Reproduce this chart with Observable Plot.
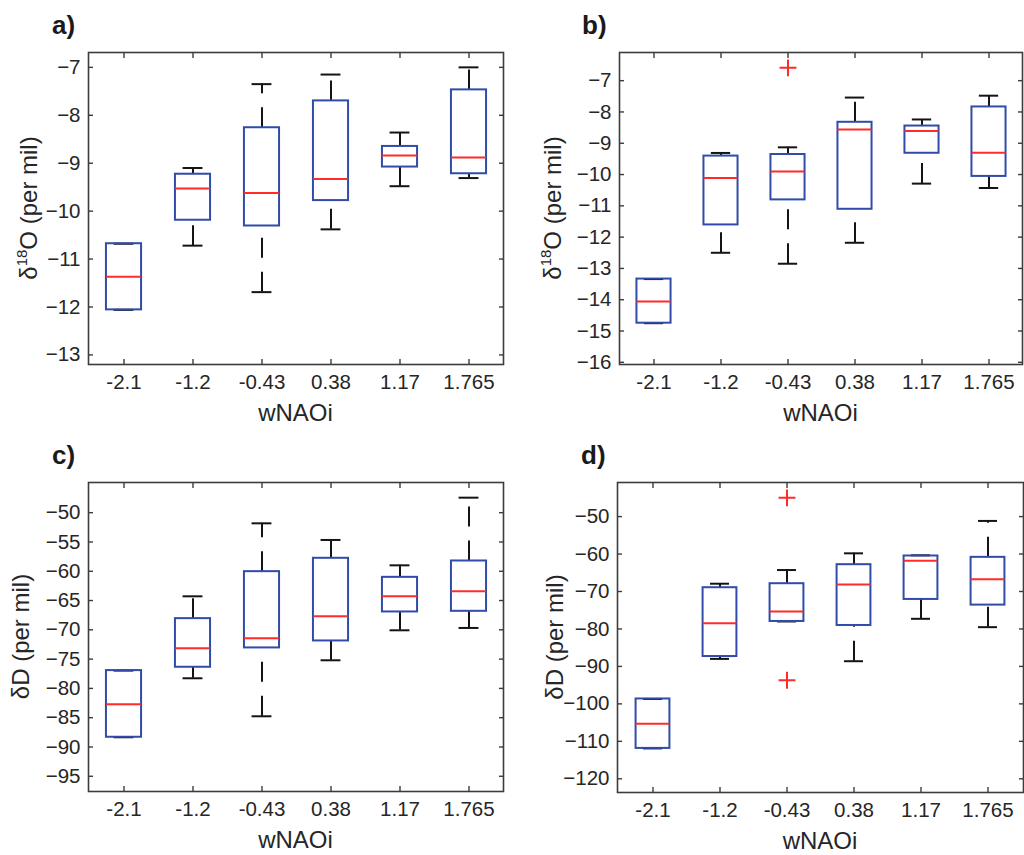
<!DOCTYPE html>
<html>
<head>
<meta charset="utf-8">
<script src="https://cdn.jsdelivr.net/npm/d3@7"></script>
<script src="https://cdn.jsdelivr.net/npm/@observablehq/plot@0.6"></script>
<style>
  html, body { margin: 0; padding: 0; background: #fff; }
  #fig { position: relative; width: 1024px; height: 855px; background: #fff; font-family: "Liberation Sans", Arial, Helvetica, sans-serif; }
  .panel { position: absolute; }
  .plabel { position: absolute; font-weight: bold; font-size: 26px; color: #1a1a1a; line-height: 1; }
</style>
</head>
<body>
<div id="fig"></div>
<script>
// ---------- data ----------
const categories = ["-2.1", "-1.2", "-0.43", "0.38", "1.17", "1.765"];

// panel a: δ18O (first data set)
const aLow    = [-12.06, -10.72, -11.69, -10.38, -9.48, -9.31];
const aQ1     = [-12.06, -10.19, -10.31, -9.78, -9.08, -9.22];
const aMedian = [-11.37, -9.53, -9.62, -9.33, -8.84, -8.88];
const aQ3     = [-10.68, -9.23, -8.26, -7.70, -8.65, -7.47];
const aHigh   = [-10.68, -9.10, -7.35, -7.15, -8.36, -7.00];
const aOutliers = [];
const aTicks  = [-13, -12, -11, -10, -9, -8, -7];

// panel b: δ18O (second data set)
const bLow    = [-14.75, -12.50, -12.85, -12.18, -10.29, -10.43];
const bQ1     = [-14.75, -11.61, -10.81, -11.11, -9.32, -10.06];
const bMedian = [-14.06, -10.11, -9.90, -8.56, -8.61, -9.30];
const bQ3     = [-13.34, -9.41, -9.36, -8.33, -8.45, -7.84];
const bHigh   = [-13.34, -9.31, -9.13, -7.54, -8.24, -7.48];
const bOutliers = [{cat: "-0.43", v: -6.59}];
const bTicks  = [-16, -15, -14, -13, -12, -11, -10, -9, -8, -7];

// panel c: δD (first data set)
const cLow    = [-88.34, -78.27, -84.76, -75.20, -70.08, -69.68];
const cQ1     = [-88.34, -76.39, -73.09, -71.90, -66.95, -66.84];
const cMedian = [-82.71, -73.15, -71.45, -67.69, -64.28, -63.42];
const cQ3     = [-76.96, -68.09, -60.07, -57.79, -61.04, -58.25];
const cHigh   = [-76.96, -64.28, -51.82, -54.66, -58.99, -47.44];
const cOutliers = [];
const cTicks  = [-95, -90, -85, -80, -75, -70, -65, -60, -55, -50];

// panel d: δD (second data set)
const dLow    = [-111.89, -87.99, -78.00, -88.61, -77.29, -79.52];
const dQ1     = [-111.89, -87.36, -78.00, -79.07, -72.12, -73.63];
const dMedian = [-105.29, -78.45, -75.33, -68.10, -61.77, -66.76];
const dQ3     = [-98.69, -68.99, -67.92, -62.84, -60.52, -60.88];
const dHigh   = [-98.69, -67.92, -64.27, -59.81, -60.34, -51.16];
const dOutliers = [{cat: "-0.43", v: -45.0}, {cat: "-0.43", v: -93.70}];
const dTicks  = [-120, -110, -100, -90, -80, -70, -60, -50];

const xLabel = "wNAOi";

// ---------- styling ----------
const BLUE = "#2f4ca8";
const RED = "#ff2b2b";
const BLACK = "#141414";
const FRAME = "#3c3c3c";
const TXT = "#262626";
const FONT = "'Liberation Sans', Arial, Helvetica, sans-serif";
const TICK_FS = 20.5;

function makePanel(cfg) {
  const rows = categories.map((c, i) => ({
    cat: c, lo: cfg.lo[i], q1: cfg.q1[i], med: cfg.med[i], q3: cfg.q3[i], hi: cfg.hi[i]
  }));
  const band = (cfg.width - cfg.ml - cfg.mr) / categories.length;
  const boxInset = band * 0.245;
  const capInset = band * 0.355;

  const svg = Plot.plot({
    width: cfg.width,
    height: cfg.height,
    marginLeft: cfg.ml,
    marginRight: cfg.mr,
    marginTop: cfg.mt,
    marginBottom: cfg.mb,
    style: { fontFamily: FONT, color: TXT, background: "#fff", overflow: "visible" },
    x: { type: "band", domain: categories, padding: 0, align: 0.5, label: null },
    y: { domain: cfg.domain, label: null },
    marks: [
      // whiskers (dashed)
      Plot.ruleX(rows, { x: "cat", y1: "q3", y2: "hi", stroke: BLACK, strokeWidth: 2, strokeDasharray: "20,14" }),
      Plot.ruleX(rows, { x: "cat", y1: "lo", y2: "q1", stroke: BLACK, strokeWidth: 2, strokeDasharray: "20,14" }),
      // whisker caps
      Plot.tickY(rows, { x: "cat", y: "hi", stroke: BLACK, strokeWidth: 2, insetLeft: capInset, insetRight: capInset }),
      Plot.tickY(rows, { x: "cat", y: "lo", stroke: BLACK, strokeWidth: 2, insetLeft: capInset, insetRight: capInset }),
      // boxes
      Plot.barY(rows, { x: "cat", y1: "q1", y2: "q3", fill: "none", stroke: BLUE, strokeWidth: 2, insetLeft: boxInset, insetRight: boxInset }),
      // medians
      Plot.tickY(rows, { x: "cat", y: "med", stroke: RED, strokeWidth: 2, insetLeft: boxInset, insetRight: boxInset }),
      // outliers
      Plot.dot(cfg.outliers, { x: "cat", y: "v", symbol: "plus", r: 5.5, stroke: RED, strokeWidth: 2 }),
      // frame
      Plot.frame({ stroke: FRAME, strokeWidth: 1.6 }),
      // tick labels
      Plot.axisY(cfg.ticks, { anchor: "left", tickSize: 0, tickPadding: 8, fontSize: TICK_FS, fill: TXT, label: null }),
      Plot.axisX(categories, { anchor: "bottom", tickSize: 0, tickPadding: 10, fontSize: TICK_FS, fill: TXT, label: null }),
      // inward ticks
      Plot.axisY(cfg.ticks, { anchor: "left", tickSize: -5, tickFormat: () => "", stroke: FRAME, strokeWidth: 1.4, label: null }),
      Plot.axisY(cfg.ticks, { anchor: "right", tickSize: -5, tickFormat: () => "", stroke: FRAME, strokeWidth: 1.4, label: null }),
      Plot.axisX(categories, { anchor: "bottom", tickSize: -5, tickFormat: () => "", stroke: FRAME, strokeWidth: 1.4, label: null }),
      Plot.axisX(categories, { anchor: "top", tickSize: -5, tickFormat: () => "", stroke: FRAME, strokeWidth: 1.4, label: null })
    ]
  });

  const s = d3.select(svg);
  const frameCx = cfg.ml + (cfg.width - cfg.ml - cfg.mr) / 2;
  const frameCy = cfg.mt + (cfg.height - cfg.mt - cfg.mb) / 2;
  // x axis title
  s.append("text")
    .attr("x", frameCx)
    .attr("y", cfg.height - cfg.mb + 57)
    .attr("text-anchor", "middle")
    .attr("font-size", 24)
    .attr("fill", TXT)
    .attr("font-family", FONT)
    .text(xLabel);
  // y axis title (rotated, with superscript)
  const yt = s.append("text")
    .attr("transform", `translate(${cfg.ylx},${frameCy}) rotate(-90)`)
    .attr("text-anchor", "middle")
    .attr("font-size", 24)
    .attr("fill", TXT)
    .attr("font-family", FONT);
  cfg.ylabel.forEach(part => {
    const t = yt.append("tspan").text(part.t);
    if (part.sup) t.attr("font-size", 15).attr("dy", -10);
    else if (part.after) t.attr("dy", 10);
  });

  const wrap = document.createElement("div");
  wrap.className = "panel";
  wrap.style.left = cfg.left + "px";
  wrap.style.top = cfg.top + "px";
  wrap.appendChild(svg);
  document.getElementById("fig").appendChild(wrap);

  const lab = document.createElement("div");
  lab.className = "plabel";
  lab.textContent = cfg.tag;
  lab.style.left = cfg.tagX + "px";
  lab.style.top = cfg.tagY + "px";
  document.getElementById("fig").appendChild(lab);
}

const d18 = [{t: "δ"}, {t: "18", sup: true}, {t: "O (per mil)", after: true}];
const dD = [{t: "δD (per mil)"}];

makePanel({ tag: "a)", tagX: 52, tagY: 12, left: 0, top: 0, width: 512, height: 428, ml: 88, mr: 9, mt: 52, mb: 64,
  domain: [-13.2, -6.69], ticks: aTicks, lo: aLow, q1: aQ1, med: aMedian, q3: aQ3, hi: aHigh, outliers: aOutliers, ylabel: d18, ylx: 37 });
makePanel({ tag: "b)", tagX: 582, tagY: 12, left: 512, top: 0, width: 512, height: 428, ml: 107, mr: 2, mt: 52, mb: 64,
  domain: [-16.07, -6.1], ticks: bTicks, lo: bLow, q1: bQ1, med: bMedian, q3: bQ3, hi: bHigh, outliers: bOutliers, ylabel: d18, ylx: 49 });
makePanel({ tag: "c)", tagX: 52, tagY: 442, left: 0, top: 428, width: 512, height: 427, ml: 88, mr: 9, mt: 54, mb: 64,
  domain: [-97.6, -44.85], ticks: cTicks, lo: cLow, q1: cQ1, med: cMedian, q3: cQ3, hi: cHigh, outliers: cOutliers, ylabel: dD, ylx: 29 });
makePanel({ tag: "d)", tagX: 581, tagY: 442, left: 512, top: 428, width: 512, height: 427, ml: 105, mr: 1, mt: 54, mb: 63,
  domain: [-123.66, -40.9], ticks: dTicks, lo: dLow, q1: dQ1, med: dMedian, q3: dQ3, hi: dHigh, outliers: dOutliers, ylabel: dD, ylx: 51 });
</script>
</body>
</html>
